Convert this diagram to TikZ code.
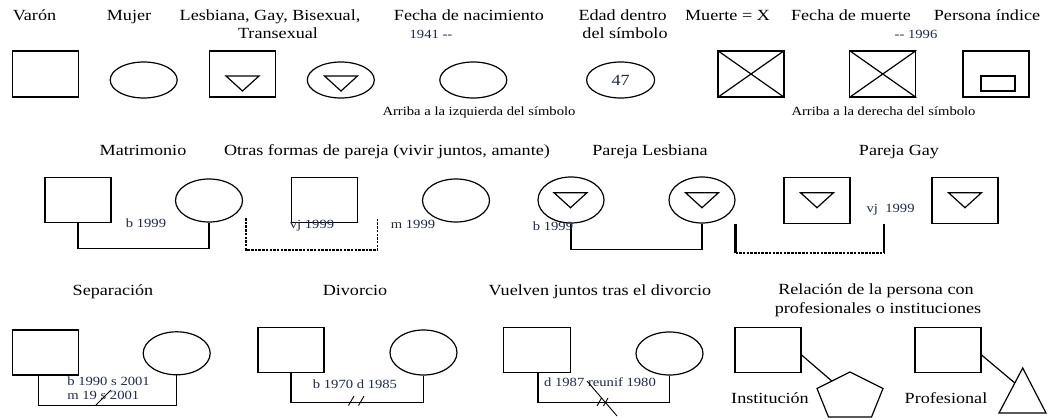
\documentclass[tikz,border=0pt]{standalone}
\usepackage{fontspec}
\setmainfont{Liberation Serif}[FakeStretch=1.17]
\usetikzlibrary{calc,shapes.geometric}
\definecolor{lbl}{HTML}{1F2A4A}
\newcommand\mydtri[1]{\draw (#1) ++(-16.5,-7.5) -- ++(33,0) -- ++(-16.5,15) -- cycle;}
\begin{document}
\begin{tikzpicture}[x=1pt,y=-1pt,line width=1.2pt,
  ttl/.style={font=\fontsize{15.5}{18}\selectfont,inner sep=0,text height=11pt,text depth=3.5pt},
  sml/.style={font=\fontsize{12.5}{14}\selectfont,inner sep=0,text=lbl,text height=9pt,text depth=2.5pt},
  note/.style={font=\fontsize{12.5}{14}\selectfont,inner sep=0,text height=9pt,text depth=2.5pt},
  sq/.style={draw,rectangle,minimum width=66pt,minimum height=45pt,inner sep=0},
  ov/.style={draw,ellipse,minimum width=67pt,minimum height=36pt,inner sep=0},
  dsh/.style={dash pattern=on 2.5pt off 1.2pt},
  heavy/.style={line width=2.4pt},
  thin/.style={line width=0.9pt}]
\useasboundingbox (0,0) rectangle (1058,420);

% ---------- top row ----------
\node[ttl] (tVaron) at (34.5,17) {Varón};
\node[ttl] (tMujer) at (129,17) {Mujer};
\node[ttl] (tLGBT1) at (270,17) {Lesbiana, Gay, Bisexual,};
\node[ttl] (tLGBT2) at (278,35) {Transexual};
\node[ttl] (tNac) at (469,17) {Fecha de nacimiento};
\node[sml] (lNac) at (431,35) {1941 -{}-};
\node[ttl] (tEdad1) at (622.6,17) {Edad dentro};
\node[ttl] (tEdad2) at (625,35) {del símbolo};
\node[ttl] (tMuerte) at (727.5,17) {Muerte = X};
\node[ttl] (tFMuerte) at (851,17) {Fecha de muerte};
\node[sml] (lMuerte) at (916,35) {-{}- 1996};
\node[ttl] (tIndice) at (987,17) {Persona índice};
\node[note] (nIzq) at (479,112) {Arriba a la izquierda del símbolo};
\node[note] (nDer) at (883.5,112) {Arriba a la derecha del símbolo};

\node[sq,minimum height=46pt] (varon) at (45.5,74) {};
\node[ov] (mujer) at (143.7,80) {};
\node[sq,minimum height=46pt] (lgbtR) at (242.3,74) {};
\mydtri{242.5,83.5}
\node[ov] (lgbtE) at (340.8,80) {};
\mydtri{341,83.5}
\node[ov] (nac) at (473.3,80) {};
\node[ov,minimum width=68pt,font=\fontsize{15.5}{17}\selectfont,text=lbl] (edad) at (620.6,80) {47};
\node[sq,minimum height=46pt] (muerte) at (751,74) {};
\draw (muerte.north west) -- (muerte.south east) (muerte.north east) -- (muerte.south west);
\node[sq,minimum height=46pt] (fmuerte) at (882.8,74) {};
\draw (fmuerte.north west) -- (fmuerte.south east) (fmuerte.north east) -- (fmuerte.south west);
\node[sq,minimum height=46pt] (indice) at (996,74) {};
\node[draw,line width=1.1pt,minimum width=34pt,minimum height=15pt,inner sep=0] (indiceIn) at (998,83.5) {};

% ---------- middle row ----------
\node[ttl] (tMat) at (143,152) {Matrimonio};
\node[ttl] (tOtras) at (387,152) {Otras formas de pareja (vivir juntos, amante)};
\node[ttl] (tLes) at (650,152) {Pareja Lesbiana};
\node[ttl] (tGay) at (899,152) {Pareja Gay};

\node[sq] (m1) at (78,200) {};
\node[ov,minimum height=43pt] (m2) at (209,200.5) {};
\draw (m1.south) -- ++(0,25.5) -| (m2.south);
\node[sml] (lm) at (146,224.6) {b 1999};

\node[sq] (o1) at (324.5,200) {};
\node[ov,minimum height=43pt] (o2) at (456,200.5) {};
\coordinate (oa) at (246,218);
\coordinate (ob) at (377.6,218);
\draw[dsh] (oa) -- ++(0,32) -| (ob);
\node[sml] (lo1) at (312,225.6) {vj 1999};
\node[sml] (lo2) at (413,225.6) {m 1999};

\node[ov,minimum width=66pt,minimum height=46pt] (l1) at (571,200) {};
\mydtri{570.5,200.2}
\node[ov,minimum width=66pt,minimum height=46pt] (l2) at (702,200) {};
\mydtri{702,200.2}
\draw (l1.south) -- ++(0,26) -| (l2.south);
\node[sml] (ll) at (553,227) {b 1999};

\node[sq,minimum height=46pt] (g1) at (817,200.7) {};
\mydtri{817,200.2}
\node[sq,minimum height=46pt] (g2) at (965,200.7) {};
\mydtri{965,200.2}
\coordinate (ga) at (735.5,223.5);
\coordinate (gb) at (883.8,223.5);
\coordinate (ga2) at (735.5,253);
\coordinate (gb2) at (883.8,253);
\draw[heavy] (ga) -- (ga2);
\draw[heavy] (gb) -- (gb2);
\draw[dsh] (ga2) -- (gb2);
\node[sml] (lg) at (890.6,208.8) {vj\ \ 1999};

% ---------- bottom row ----------
\node[ttl] (tSep) at (113,292) {Separación};
\node[ttl] (tDiv) at (355,292) {Divorcio};
\node[ttl] (tVuel) at (600,292) {Vuelven juntos tras el divorcio};
\node[ttl] (tRel1) at (876,291) {Relación de la persona con};
\node[ttl] (tRel2) at (878,310) {profesionales o instituciones};

\node[sq] (s1) at (45.3,352.5) {};
\node[ov,minimum height=43pt] (s2) at (176.7,353.3) {};
\draw ([xshift=-7pt]s1.south) -- ++(0,30) -| (s2.south);
\node[sml,anchor=west] (ls1) at (66.7,382) {b 1990 s 2001};
\node[sml,anchor=west] (ls2) at (66.7,396.5) {m 19 s 2001};
\coordinate (sa) at (96,405);
\coordinate (sb) at (111,390);
\draw[thin] (sa) -- (sb);

\node[sq] (d1) at (291,350) {};
\node[ov,minimum height=45pt] (d2) at (423.5,352.5) {};
\draw (d1.south) -- ++(0,29.7) -| (d2.south);
\node[sml] (ld) at (355,385) {b 1970 d 1985};
\coordinate (da1) at (348.5,405.5); \coordinate (db1) at (354,396);
\coordinate (da2) at (358.5,405.5); \coordinate (db2) at (364,396);
\draw[thin] (da1) -- (db1);
\draw[thin] (da2) -- (db2);

\node[sq,minimum width=67pt] (v1) at (537,350) {};
\node[ov,minimum height=43pt] (v2) at (669.5,353.5) {};
\draw ([xshift=1pt]v1.south) -- ++(0,29.5) -| (v2.south);
\node[sml] (lv) at (600,383.5) {d 1987 reunif 1980};
\coordinate (va) at (587,381); \coordinate (vb) at (617,416);
\draw[thin] (va) -- (vb);
\coordinate (va1) at (597,406); \coordinate (vb1) at (601.5,398);
\coordinate (va2) at (603.5,406); \coordinate (vb2) at (608,398);
\draw[thin] (va1) -- (vb1);
\draw[thin] (va2) -- (vb2);

\node[sq] (inst) at (768,350) {};
\coordinate (p1) at (850,372);
\coordinate (p2) at (817,388.5);
\coordinate (p3) at (828.5,417);
\coordinate (p4) at (871.5,417);
\coordinate (p5) at (883,388.5);
\draw (p1) -- (p2) -- (p3) -- (p4) -- (p5) -- cycle;
\coordinate (pc) at ($(p1)!0.55!(p2)$);
\draw ([yshift=-5pt]inst.east) -- (pc);
\node[ttl] (tInst) at (770,400) {Institución};

\node[sq] (prof) at (948,350) {};
\coordinate (t1) at (1022.7,368);
\coordinate (t2) at (999,413);
\coordinate (t3) at (1046,413);
\draw (t1) -- (t2) -- (t3) -- cycle;
\coordinate (tc) at ($(t1)!0.333!(t2)$);
\draw ([yshift=-5pt]prof.east) -- (tc);
\node[ttl] (tProf) at (946,400) {Profesional};
\end{tikzpicture}
\end{document}
